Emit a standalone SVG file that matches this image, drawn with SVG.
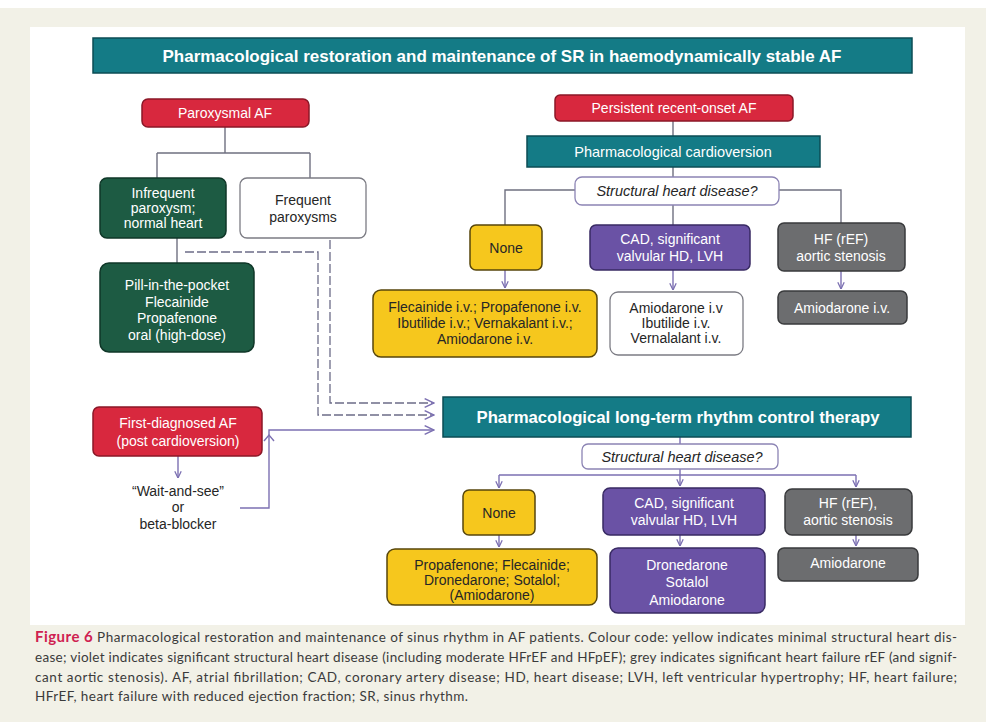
<svg xmlns="http://www.w3.org/2000/svg" width="986" height="722" viewBox="0 0 986 722">
<defs>
<style>
.t{font-family:"Liberation Sans",Arial,sans-serif;font-size:14px;text-anchor:middle}
.w{fill:#ffffff}
.d{fill:#262626}
.it{font-style:italic}
.hd{font-weight:bold;font-size:17px}
.teal{fill:#147b86;stroke:#0b4c54;stroke-width:1.5}
.red{fill:#d8283e;stroke:#8a1727;stroke-width:1.5}
.grn{fill:#1d5b43;stroke:#0f3728;stroke-width:1.5}
.yel{fill:#f6c71d;stroke:#57460b;stroke-width:1.5}
.pur{fill:#6a52a5;stroke:#382a63;stroke-width:1.5}
.gry{fill:#6c6d6f;stroke:#393a3c;stroke-width:1.5}
.wht{fill:#ffffff;stroke:#7c7c84;stroke-width:1.3}
.q{fill:#ffffff;stroke:#8c84b4;stroke-width:1.3}
.ln{fill:none;stroke:#6f7080;stroke-width:1.4}
.lp{fill:none;stroke:#7c70b2;stroke-width:1.4}
.ds{fill:none;stroke:#6c6c88;stroke-width:1.3;stroke-dasharray:9,3}
.cap{font-family:Lato,"Open Sans","Liberation Sans",sans-serif;font-size:13.5px;fill:#3b3b3b}
</style>
<marker id="ar" viewBox="0 0 10 10" refX="9.5" refY="5" markerWidth="8" markerHeight="8" markerUnits="userSpaceOnUse" orient="auto">
<path d="M1,1 L9.5,5 L1,9" fill="none" stroke="#7c70b2" stroke-width="1.6"/>
</marker>
<marker id="arL" viewBox="0 0 10 10" refX="9.5" refY="5" markerWidth="11" markerHeight="11" markerUnits="userSpaceOnUse" orient="auto">
<path d="M1,1 L9.5,5 L1,9" fill="none" stroke="#7c70b2" stroke-width="1.3"/>
</marker>
</defs>

<rect x="0" y="0" width="986" height="722" fill="#ffffff"/>
<rect x="0" y="8" width="986" height="714" fill="#f2f1e7"/>
<rect x="30" y="27" width="935" height="598" fill="#ffffff"/>

<g id="connectors">
<path class="ln" d="M225,127 V153 M157,153 H310 M157,153 V178 M310,153 V178"/>
<path class="ln" d="M177,238 V263"/>
<path class="ds" d="M185,252 H318 V415 H434" marker-end="url(#arL)"/>
<path class="ds" d="M330,240 V403 H434" marker-end="url(#arL)"/>
<path class="lp" d="M178,456 V478" marker-end="url(#ar)"/>
<path class="lp" d="M240,508 H269 V430 H434" marker-end="url(#arL)"/>
<path d="M264,441 L269,435 L274,441" fill="none" stroke="#7c70b2" stroke-width="1.4"/>
<path class="ln" d="M673,121 V136 M673,167 V177"/>
<path class="ln" d="M575,190 H505 V225 M779,190 H841 V223 M673,205 V225"/>
<path class="lp" d="M505,270 V288" marker-end="url(#ar)"/>
<path class="lp" d="M673,270 V290" marker-end="url(#ar)"/>
<path class="lp" d="M841,271 V289" marker-end="url(#ar)"/>
<path class="lp" d="M680,437 V444 M680,469 V475 M499,475 H856"/>
<path class="lp" d="M499,475 V488" marker-end="url(#ar)"/>
<path class="lp" d="M680,475 V486" marker-end="url(#ar)"/>
<path class="lp" d="M856,475 V487" marker-end="url(#ar)"/>
<path class="lp" d="M499,535 V547" marker-end="url(#ar)"/>
<path class="lp" d="M680,535 V546" marker-end="url(#ar)"/>
<path class="lp" d="M856,535 V546" marker-end="url(#ar)"/>
</g>

<g id="title">
<rect class="teal" x="93" y="38" width="819" height="35"/>
<text class="t w hd" x="502" y="62" textLength="679" lengthAdjust="spacingAndGlyphs">Pharmacological restoration and maintenance of SR in haemodynamically stable AF</text>
</g>

<g id="paroxysmal">
<rect class="red" x="142" y="99" width="167" height="28" rx="6"/>
<text class="t w" x="225" y="118">Paroxysmal AF</text>
</g>

<g id="infrequent">
<rect class="grn" x="100" y="178" width="126" height="60" rx="7"/>
<text class="t w" x="163" y="198">Infrequent</text>
<text class="t w" x="163" y="213">paroxysm;</text>
<text class="t w" x="163" y="228">normal heart</text>
</g>

<g id="frequent">
<rect class="wht" x="240" y="178" width="126" height="60" rx="7"/>
<text class="t d" x="303" y="205">Frequent</text>
<text class="t d" x="303" y="222">paroxysms</text>
</g>

<g id="pill">
<rect class="grn" x="100" y="263" width="154" height="89" rx="9"/>
<text class="t w" x="177" y="290">Pill-in-the-pocket</text>
<text class="t w" x="177" y="306.5">Flecainide</text>
<text class="t w" x="177" y="323">Propafenone</text>
<text class="t w" x="177" y="339.5">oral (high-dose)</text>
</g>

<g id="persistent">
<rect class="red" x="555" y="95" width="238" height="26" rx="5"/>
<text class="t w" x="674" y="113">Persistent recent-onset AF</text>
</g>

<g id="cardioversion">
<rect class="teal" x="527" y="136" width="293" height="31"/>
<text class="t w" x="673" y="156.5" style="font-size:14.5px">Pharmacological cardioversion</text>
</g>

<g id="shd-top">
<rect class="q" x="575" y="177" width="204" height="28" rx="7"/>
<text class="t d it" x="677" y="196" style="font-size:14.5px">Structural heart disease?</text>
</g>

<g id="none-top">
<rect class="yel" x="470" y="225" width="72" height="45" rx="6"/>
<text class="t d" x="506" y="252.5">None</text>
</g>

<g id="cad-top">
<rect class="pur" x="590" y="225" width="160" height="45" rx="6"/>
<text class="t w" x="670" y="244">CAD, significant</text>
<text class="t w" x="670" y="261">valvular HD, LVH</text>
</g>

<g id="hf-top">
<rect class="gry" x="778" y="223" width="127" height="48" rx="6"/>
<text class="t w" x="841" y="244">HF (rEF)</text>
<text class="t w" x="841" y="261">aortic stenosis</text>
</g>

<g id="flecainide-iv">
<rect class="yel" x="373" y="290" width="224" height="67" rx="8"/>
<text class="t d" x="485" y="312">Flecainide i.v.; Propafenone i.v.</text>
<text class="t d" x="485" y="328">Ibutilide i.v.; Vernakalant i.v.;</text>
<text class="t d" x="485" y="344">Amiodarone i.v.</text>
</g>

<g id="amio-iv-white">
<rect class="wht" x="610" y="292" width="133" height="63" rx="8"/>
<text class="t d" x="676" y="313">Amiodarone i.v</text>
<text class="t d" x="676" y="328">Ibutilide i.v.</text>
<text class="t d" x="676" y="343">Vernalalant i.v.</text>
</g>

<g id="amio-iv-grey">
<rect class="gry" x="778" y="291" width="129" height="33" rx="6"/>
<text class="t w" x="842" y="312.5">Amiodarone i.v.</text>
</g>

<g id="first-diagnosed">
<rect class="red" x="93" y="407" width="169" height="49" rx="6"/>
<text class="t w" x="178" y="428">First-diagnosed AF</text>
<text class="t w" x="178" y="446">(post cardioversion)</text>
</g>

<g id="wait-and-see">
<text class="t d" x="178" y="496">“Wait-and-see”</text>
<text class="t d" x="178" y="512">or</text>
<text class="t d" x="178" y="529">beta-blocker</text>
</g>

<g id="long-term">
<rect class="teal" x="443" y="397" width="468" height="40"/>
<text class="t w hd" x="678" y="423" textLength="403" lengthAdjust="spacingAndGlyphs">Pharmacological long-term rhythm control therapy</text>
</g>

<g id="shd-bottom">
<rect class="q" x="582" y="444" width="196" height="25" rx="6"/>
<text class="t d it" x="682" y="461.5" style="font-size:14.5px">Structural heart disease?</text>
</g>

<g id="none-bottom">
<rect class="yel" x="463" y="490" width="72" height="45" rx="6"/>
<text class="t d" x="499" y="517.5">None</text>
</g>

<g id="cad-bottom">
<rect class="pur" x="603" y="488" width="162" height="47" rx="7"/>
<text class="t w" x="684" y="508">CAD, significant</text>
<text class="t w" x="684" y="525">valvular HD, LVH</text>
</g>

<g id="hf-bottom">
<rect class="gry" x="785" y="489" width="127" height="46" rx="7"/>
<text class="t w" x="848" y="508">HF (rEF),</text>
<text class="t w" x="848" y="525">aortic stenosis</text>
</g>

<g id="propafenone">
<rect class="yel" x="387" y="549" width="210" height="56" rx="8"/>
<text class="t d" x="492" y="570">Propafenone; Flecainide;</text>
<text class="t d" x="492" y="585">Dronedarone; Sotalol;</text>
<text class="t d" x="492" y="600">(Amiodarone)</text>
</g>

<g id="dronedarone">
<rect class="pur" x="610" y="548" width="155" height="65" rx="8"/>
<text class="t w" x="687" y="570">Dronedarone</text>
<text class="t w" x="687" y="587">Sotalol</text>
<text class="t w" x="687" y="605">Amiodarone</text>
</g>

<g id="amiodarone">
<rect class="gry" x="778" y="548" width="140" height="33" rx="6"/>
<text class="t w" x="848" y="568">Amiodarone</text>
</g>

<g id="caption">
<text class="cap" x="35" y="642" textLength="922" lengthAdjust="spacing"><tspan style="font-weight:bold;font-size:15px;fill:#cf2150">Figure 6</tspan> Pharmacological restoration and maintenance of sinus rhythm in AF patients. Colour code: yellow indicates minimal structural heart dis-</text>
<text class="cap" x="35" y="662" textLength="922" lengthAdjust="spacing">ease; violet indicates significant structural heart disease (including moderate HFrEF and HFpEF); grey indicates significant heart failure rEF (and signif-</text>
<text class="cap" x="35" y="682" textLength="922" lengthAdjust="spacing">cant aortic stenosis). AF, atrial fibrillation; CAD, coronary artery disease; HD, heart disease; LVH, left ventricular hypertrophy; HF, heart failure;</text>
<text class="cap" x="35" y="701" textLength="433" lengthAdjust="spacing">HFrEF, heart failure with reduced ejection fraction; SR, sinus rhythm.</text>
</g>
</svg>
